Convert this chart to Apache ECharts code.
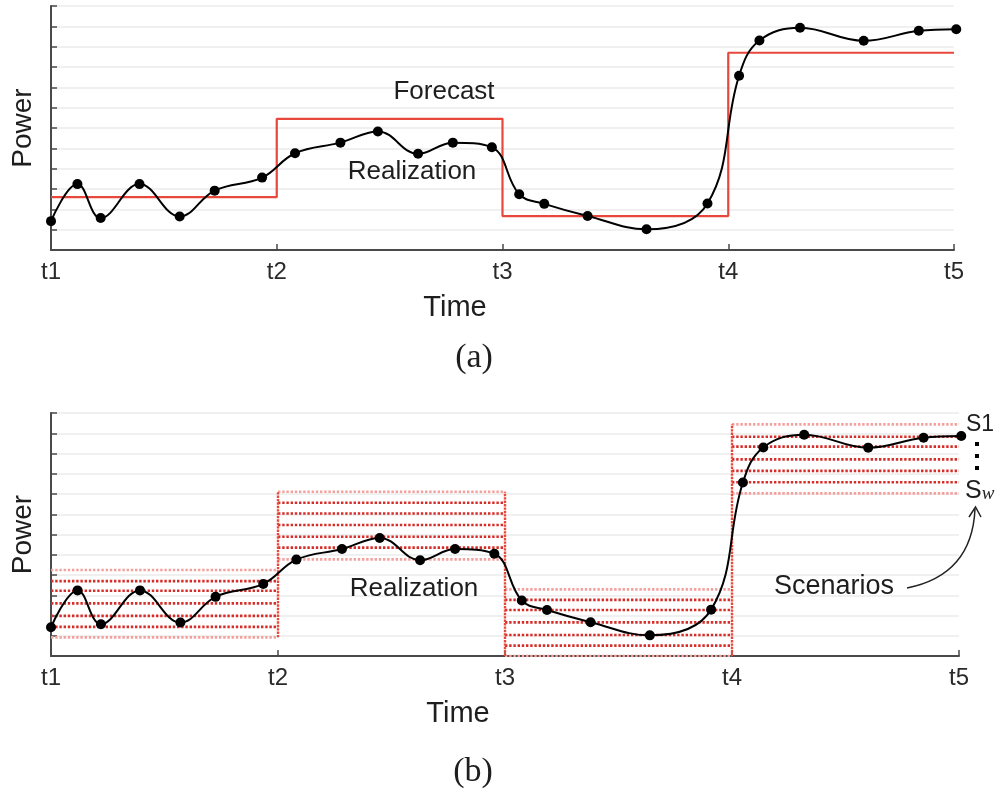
<!DOCTYPE html>
<html>
<head>
<meta charset="utf-8">
<script src="https://cdn.jsdelivr.net/npm/echarts@6/dist/echarts.min.js"></script>
<style>html,body{margin:0;padding:0;background:#fff}#c{width:997px;height:795px}</style>
</head>
<body>
<div id="c"></div>
<script>
// ---- data ----
const tickLabels = ['t1', 't2', 't3', 't4', 't5'];
const periodBounds = [1, 2, 3, 4, 5];
const forecastLevels = [2.6, 6.45, 1.67, 9.7];
const realTimes = [1.0, 1.117, 1.22, 1.392, 1.57, 1.725, 1.935, 2.081, 2.282, 2.448, 2.626, 2.78, 2.953, 3.074, 3.185, 3.377, 3.638, 3.908, 4.048, 4.138, 4.318, 4.6, 4.844, 5.01];
const realValues = [1.42, 3.24, 1.57, 3.24, 1.65, 2.92, 3.56, 4.76, 5.28, 5.83, 4.73, 5.28, 5.05, 2.74, 2.27, 1.67, 1.02, 2.29, 8.57, 10.3, 10.93, 10.29, 10.78, 10.86];
const scenarioP1 = [4.25, 3.7, 3.22, 2.6, 1.98, 1.44, 0.92];
const scenarioP2 = [8.11, 7.57, 7.04, 6.47, 5.89, 5.35, 4.77];
const scenarioP3 = [3.29, 2.77, 2.27, 1.66, 1.04, 0.51, 0.0];
const scenarioP4 = [11.44, 10.83, 10.34, 9.71, 9.14, 8.58, 8.03];
const scenarioLevels = [scenarioP1, scenarioP2, scenarioP3, scenarioP4];

// ---- styles ----
const RED = '#e8483b';
const DARKDOT = '#d52d28';
const LIGHTDOT = '#f4a19e';
const AX = '#4a4a4a';
const TXT = '#1e1e1e';
const FONT = 'Liberation Sans';

const chart = echarts.init(document.getElementById('c'), null, {renderer: 'canvas'});

function xAxisDef(gi) {
  return {
    type: 'value', gridIndex: gi, min: 1, max: 5, interval: 1,
    axisLine: {lineStyle: {color: AX, width: 2}},
    axisTick: {inside: true, length: 6, lineStyle: {color: AX, width: 1.5}},
    axisLabel: {fontFamily: FONT, fontSize: 24, color: '#2a2a2a', margin: 10,
      formatter: v => tickLabels[Math.round(v) - 1] || ''},
    splitLine: {show: false}
  };
}
function yAxisDef(gi) {
  return {
    type: 'value', gridIndex: gi, min: 0, max: 12, interval: 1,
    name: 'Power', nameLocation: 'middle', nameGap: 14, nameRotate: 90,
    nameTextStyle: {fontFamily: FONT, fontSize: 28, color: TXT},
    axisLine: {show: true, lineStyle: {color: AX, width: 2}},
    axisTick: {show: true, inside: true, length: 6, lineStyle: {color: AX, width: 1.5}},
    axisLabel: {show: false},
    splitLine: {show: true, lineStyle: {color: '#ebebeb', width: 1.5}}
  };
}

const series = [];

// scenarios (bottom)
scenarioLevels.forEach((levels, p) => {
  levels.forEach((v, k) => {
    const light = (k === 0 || k === levels.length - 1);
    series.push({
      type: 'line', xAxisIndex: 1, yAxisIndex: 1, silent: true, symbol: 'none', z: 2,
      data: [[periodBounds[p], v], [periodBounds[p + 1], v]],
      lineStyle: {color: light ? LIGHTDOT : DARKDOT, width: 2.6, type: [2.4, 1.8]}
    });
  });
});
// vertical connectors between scenario blocks
for (let p = 1; p < scenarioLevels.length; p++) {
  const a = scenarioLevels[p - 1], b = scenarioLevels[p];
  const lo = Math.min(...a, ...b), hi = Math.max(...a, ...b);
  series.push({
    type: 'line', xAxisIndex: 1, yAxisIndex: 1, silent: true, symbol: 'none', z: 2,
    data: [[periodBounds[p], lo], [periodBounds[p], hi]],
    lineStyle: {color: RED, width: 2.4, type: [2.4, 1]}
  });
}

// forecast (top)
const forecastData = [];
forecastLevels.forEach((v, p) => {
  forecastData.push([periodBounds[p], v]);
  forecastData.push([periodBounds[p + 1], v]);
});
series.push({
  type: 'line', xAxisIndex: 0, yAxisIndex: 0, silent: true, symbol: 'none', z: 3,
  data: forecastData, lineStyle: {color: RED, width: 2.2}
});

// realization (both)
const realData = realTimes.map((t, i) => [t, realValues[i]]);
[0, 1].forEach(gi => {
  series.push({
    type: 'line', xAxisIndex: gi, yAxisIndex: gi, silent: true, z: 5, clip: false,
    data: realData, smooth: 0.4, symbol: 'circle', symbolSize: 10,
    itemStyle: {color: '#000'}, lineStyle: {color: '#000', width: 2}
  });
});

function txt(x, y, s, size, family, style) {
  return {
    type: 'text', x: x, y: y, z: 20,
    style: Object.assign({text: s, fontFamily: family || FONT, fontSize: size, fill: TXT, align: 'center', verticalAlign: 'middle'}, style || {})
  };
}

chart.setOption({
  animation: false,
  backgroundColor: '#fff',
  grid: [
    {left: 51, top: 6, width: 903, height: 244},
    {left: 51, top: 413, width: 908, height: 243}
  ],
  xAxis: [xAxisDef(0), xAxisDef(1)],
  yAxis: [yAxisDef(0), yAxisDef(1)],
  series: series,
  graphic: [
    txt(455, 308, 'Time', 29),
    txt(458, 714, 'Time', 29),
    txt(444, 92, 'Forecast', 26),
    txt(412, 172, 'Realization', 26),
    txt(414, 589, 'Realization', 26),
    txt(834, 587, 'Scenarios', 27),
    txt(980, 425, 'S1', 23),
    {type: 'text', x: 965, y: 491, z: 20, style: {
      rich: {
        s: {fontFamily: FONT, fontSize: 25, fill: TXT},
        w: {fontFamily: 'Liberation Serif', fontStyle: 'italic', fontSize: 19, fill: TXT, padding: [6, 0, 0, 0]}
      },
      text: '{s|S}{w|w}', align: 'left', verticalAlign: 'middle'
    }},
    {type: 'rect', z: 20, shape: {x: 975, y: 442, width: 4, height: 4}, style: {fill: '#000'}},
    {type: 'rect', z: 20, shape: {x: 975, y: 454, width: 4, height: 4}, style: {fill: '#000'}},
    {type: 'rect', z: 20, shape: {x: 975, y: 466, width: 4, height: 4}, style: {fill: '#000'}},
    {type: 'bezierCurve', z: 20, shape: {x1: 907, y1: 588, cpx1: 972, cpy1: 575, x2: 975, y2: 509},
      style: {stroke: '#222', lineWidth: 1.5, fill: null}},
    {type: 'polyline', z: 20, shape: {points: [[969, 517], [975.5, 507], [981, 517]]},
      style: {stroke: '#222', lineWidth: 1.5, fill: null}},
    txt(474, 358, '(a)', 34, 'Liberation Serif'),
    txt(473, 772, '(b)', 34, 'Liberation Serif')
  ]
});
</script>
</body>
</html>
